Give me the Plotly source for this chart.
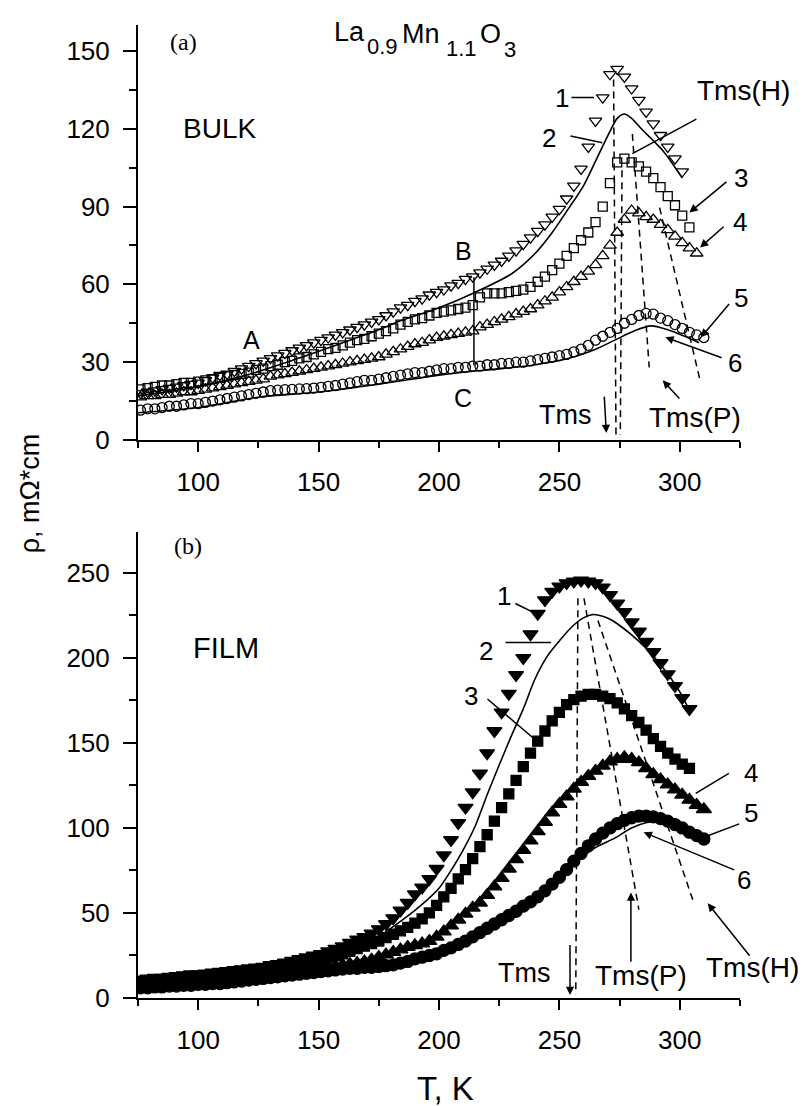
import plotly.graph_objects as go

FONT = "Liberation Sans, Arial, sans-serif"
SERIF = "Liberation Serif, Times New Roman, serif"
T_MIN, T_MAX = 75, 325

# ---------------- (a) BULK ----------------
T_BULK = [76, 79, 82, 85, 88, 91, 94, 97, 100, 103, 106, 109, 112, 115, 118, 121,
          124, 127, 130, 133, 136, 139, 142, 145, 148, 151, 154, 157, 160, 163, 166,
          169, 172, 175, 178, 181, 184, 187, 190, 193, 196, 199, 202, 205, 208, 211,
          214, 217, 220, 223, 226, 229, 232, 235, 238, 241, 244, 247, 250, 253, 256,
          259, 262, 265, 268, 271, 274, 277, 280, 283, 286, 289, 292, 295, 298, 301,
          304, 307, 310]

bulk_1 = [18, 18.5, 19, 19.5, 20, 20.5, 21, 21.5, 22, 23, 24, 25, 25.5, 26.5, 27.5, 28.5,
          29.5, 30.5, 31.5, 32.5, 33.5, 34.5, 35.5, 36.5, 37.5, 38.5, 39.5, 40.5, 41.5, 42.5, 43.5,
          44.5, 45.5, 46.5, 48, 49.5, 51, 52, 53.5, 54.5, 56, 57, 58, 59.5, 60.5, 62,
          63, 64.5, 66, 67.5, 69, 71, 73, 75.5, 78, 80.5, 83, 86, 89, 93, 98,
          104.5, 113, 123, 132, 141, 143, 140, 135.5, 131, 126.5, 122, 117.5, 113, 108.5, 103.5]

bulk_3 = [19.5, 20, 20.5, 21, 21, 21.5, 22, 22, 22.5, 23, 23.5, 24, 24.5, 25, 25.5, 26,
          27, 27.5, 28.5, 29, 30, 30.5, 31.5, 32, 33, 34, 35, 35.5, 36.5, 37.5, 38.5,
          39, 40, 41, 42, 43, 44.5, 45.5, 46.5, 47, 48, 49, 49.5, 50, 50.5, 51,
          52, 55, 56.5, 56.5, 56.5, 57, 57.5, 58, 59, 61, 63, 65.5, 68, 71, 74,
          77, 80, 84, 90, 99, 107, 108.5, 107, 105.5, 103.5, 101, 97.5, 94, 90.5, 86.5,
          82]

bulk_4 = [16.5, 17, 17, 17.5, 17.5, 18, 18.5, 18.5, 19, 19.5, 20, 20.5, 21, 21.5, 22, 22.5,
          23, 23.5, 24.5, 25, 25.5, 26, 26.5, 27, 27.5, 28, 28.5, 29, 29.5, 30, 30.5,
          31, 31.5, 32, 33, 34, 35, 36, 37, 37.5, 38.5, 39.5, 40, 40.5, 41, 41.5,
          42, 43.5, 44.5, 45.5, 46.5, 47.5, 48.5, 49.5, 50.5, 52, 53.5, 55, 57, 59, 61,
          63, 65, 67.5, 71, 75, 80, 85, 88.5, 87.5, 86, 85, 83, 81, 78.5, 76,
          74, 72]

bulk_5 = [11.5, 12, 12, 12.5, 13, 13, 13.5, 14, 14, 14.5, 15, 15.5, 16, 16.5, 17, 17.5,
          18, 18.5, 19, 19.2, 19.4, 19.5, 19.7, 19.8, 20, 20.3, 20.7, 21, 21.5, 22, 22.5,
          23, 23, 23.5, 24, 24.5, 25, 25.5, 26, 26, 26.5, 27, 27.5, 27.5, 28, 28,
          28.5, 28.5, 29, 29, 29.5, 29.5, 30, 30, 30.5, 31, 31.5, 32, 32.5, 33, 34,
          35, 36.5, 38.5, 40, 41.5, 43, 45, 46.5, 48, 48.8, 48.5, 47, 46, 44.5, 43,
          41.5, 40.5, 39.5]

T_BULK_2 = [75, 90, 100, 120, 140, 160, 175, 184, 200, 214, 230, 240, 247, 254, 260, 265,
            271, 274, 277, 280, 284, 293, 301]
bulk_2 = [17, 19, 20.5, 25, 31, 37.5, 42.5, 46, 51, 56.5, 64, 72, 80, 89.5, 98, 107.5,
          119, 124, 125.7, 124, 120, 111.5, 101]

T_BULK_6 = [75, 100, 125, 150, 175, 200, 214, 226, 240, 254, 265, 273, 281, 288, 295, 302, 308]
bulk_6 = [10.5, 12.5, 16.5, 18.5, 21.5, 25, 26.5, 27.5, 29, 31.5, 35, 38.5, 42, 44, 42.5, 40, 37.5]

# dashed guides through the maxima (T, rho pairs)
bulk_guides = [[(272.5, 139), (273.5, 2)], [(276, 104), (275.3, 2)],
               [(280.3, 118), (287.3, 28)], [(291.6, 89.6), (308.4, 23)]]
bulk_bc = [(214.5, 62.7), (214.5, 28.8)]

# ---------------- (b) FILM ----------------
T_FILM = T_BULK

film_1 = [11, 11.5, 12, 12, 12.5, 13, 13.5, 14, 14, 14.5, 15, 15.5, 16, 16.5, 17, 17.5,
          18, 18.5, 19.5, 20, 21, 22, 23, 24, 25, 26, 27.5, 29, 30.5, 32.5, 34.5,
          36, 38, 40.5, 43.5, 47, 51.5, 56, 61, 65, 70, 76, 84, 93, 103, 112,
          121, 132, 144, 157, 168, 179, 190, 200, 214, 226, 234, 239, 242, 244, 245,
          245.5, 245, 244, 241.5, 237, 232, 227, 221, 215.5, 209.5, 203.5, 197, 190.5, 183.5, 176.5,
          170]

film_3 = [9, 9.5, 9.5, 10, 10, 10.5, 11, 11, 11.5, 12, 12.5, 13, 13.5, 14, 14.5, 15,
          15.5, 16, 17, 17.5, 18.5, 19, 20, 21, 22, 23, 24, 25, 26, 27.5, 29,
          30.5, 32, 33.5, 35.5, 37.5, 39.5, 41.5, 44, 46.5, 50, 54.5, 59.5, 64.5, 70, 75.5,
          82, 89, 96, 104, 112, 120, 128, 136, 144, 151, 157, 163, 168, 172.5, 175.5,
          177.5, 178.5, 178.5, 177.5, 176, 173.5, 170, 166, 162, 157.5, 152.5, 148, 144, 140.5, 137.5,
          135]

film_4 = [7.5, 8, 8, 8.5, 8.5, 9, 9, 9.5, 10, 10, 10.5, 11, 11.5, 12, 12.5, 13,
          13.5, 14, 14.5, 15, 15.5, 16, 16.5, 17, 17.5, 18, 18.5, 19, 19.5, 20, 20.5,
          21.5, 22.5, 24, 25.5, 27, 28.5, 30, 31, 32, 33.5, 36, 39, 42.5, 46, 49.5,
          53, 56, 60.5, 65.5, 70.5, 76, 81.5, 87, 92.5, 98, 103.5, 109, 114, 118.5, 123,
          127, 130.5, 133.5, 136.5, 139, 140.5, 141.5, 140.5, 138.5, 135, 131.5, 128.5, 125.5, 122.5, 119.5,
          116.5, 113.5, 111]

film_5 = [6, 6, 6.5, 6.5, 7, 7, 7.5, 7.5, 8, 8, 8.5, 8.5, 9, 9.5, 10, 10.5,
          11, 11.5, 12, 12.5, 13, 13.5, 14, 14.5, 15, 15.5, 16, 16.5, 17, 17.5, 17.5,
          18, 18, 18.5, 19, 19.5, 20.5, 21.5, 23, 24, 25, 26, 28, 29.5, 31.5, 33.5,
          36, 38.5, 41, 43.5, 46, 48.5, 51, 54, 56.5, 59.5, 63, 67, 71, 75.5, 80.5,
          85, 89.5, 93.5, 97, 100, 102.5, 104.5, 106, 107, 107, 106.5, 105.5, 104, 102, 100,
          97.5, 95.5, 93.5]

T_FILM_2 = [75, 90, 100, 115, 130, 145, 160, 170, 178, 184, 190, 195, 200, 205, 210, 215,
            220, 225, 230, 235, 240, 245, 250, 255, 260, 264, 268, 272, 276, 280, 285, 290,
            295, 300, 303]
film_2 = [9, 10.5, 11.5, 13.5, 16, 20, 26, 32, 39, 45, 51.5, 57.5, 64.5, 75, 87, 101,
          119.5, 137, 154, 170, 188, 201, 210, 218, 223.5, 225.5, 224.5, 222, 218, 213.5, 207, 199.5,
          190.5, 180, 172]

T_FILM_6 = [75, 100, 125, 150, 170, 185, 195, 209, 215, 223, 234, 245, 256, 265, 273, 280,
            288, 295, 302, 310]
film_6 = [5, 7, 10, 13.5, 17, 19.5, 22, 30, 35, 41.7, 53.4, 65, 79, 88.5, 94, 100,
          103.5, 102, 98, 93]

film_guides = [[(257.7, 235), (256.8, 2)], [(260.2, 235), (283, 52)],
               [(266, 222), (305.8, 56)]]

fig = go.Figure()


def markers(T, rho, symbol, size, xa, ya, lw=1.3):
    fig.add_trace(go.Scatter(
        x=T[:len(rho)], y=rho, mode="markers", xaxis=xa, yaxis=ya,
        marker=dict(symbol=symbol, size=size, color="black",
                    line=dict(width=lw, color="black")),
        hoverinfo="skip"))


def curve(T, rho, xa, ya):
    fig.add_trace(go.Scatter(
        x=T, y=rho, mode="lines", xaxis=xa, yaxis=ya,
        line=dict(color="black", width=1.6, shape="spline", smoothing=0.8),
        hoverinfo="skip"))


def segment(pts, xa, ya, dash):
    fig.add_trace(go.Scatter(
        x=[p[0] for p in pts], y=[p[1] for p in pts], mode="lines",
        xaxis=xa, yaxis=ya, line=dict(color="black", width=1.5, dash=dash),
        hoverinfo="skip"))


# panel (a)
for seg in bulk_guides:
    segment(seg, "x", "y", "7px,5px")
segment(bulk_bc, "x", "y", "solid")
markers(T_BULK, bulk_5, "circle-open", 10, "x", "y")
curve(T_BULK_6, bulk_6, "x", "y")
markers(T_BULK, bulk_4, "triangle-up-open", 11, "x", "y")
markers(T_BULK, bulk_3, "square-open", 9, "x", "y")
curve(T_BULK_2, bulk_2, "x", "y")
markers(T_BULK, bulk_1, "triangle-down-open", 11, "x", "y")

# panel (b)
for seg in film_guides:
    segment(seg, "x2", "y2", "7px,5px")
markers(T_FILM, film_5, "circle", 12, "x2", "y2")
curve(T_FILM_6, film_6, "x2", "y2")
markers(T_FILM, film_4, "triangle-up", 13, "x2", "y2")
markers(T_FILM, film_3, "square", 10, "x2", "y2")
curve(T_FILM_2, film_2, "x2", "y2")
markers(T_FILM, film_1, "triangle-down", 13, "x2", "y2")

annotations = []


def label(text, x, y, panel, size=26, family=FONT):
    # horizontal position given in kelvin, placed on the paper so that text
    # beyond the axis range is still shown
    yr = "y" if panel == 1 else "y2"
    annotations.append(dict(text=text, x=(x - T_MIN) / (T_MAX - T_MIN), y=y,
                            xref="paper", yref=yr, showarrow=False,
                            xanchor="center", yanchor="middle",
                            font=dict(family=family, size=size, color="black")))


def pointer(x0, y0, x1, y1, panel, head=2):
    # line from (x0, y0) to (x1, y1); arrowhead drawn at (x1, y1)
    xr, yr = ("x", "y") if panel == 1 else ("x2", "y2")
    annotations.append(dict(text="", x=x1, y=y1, ax=x0, ay=y0, xref=xr, yref=yr,
                            axref=xr, ayref=yr, showarrow=True, arrowhead=head,
                            arrowsize=1.1, arrowwidth=1.5, arrowcolor="black",
                            standoff=0, startstandoff=0))


# compound formula
label("La", 162.8, 157.3, 1, 27)
label("0.9", 176.5, 151.9, 1, 22)
label("Mn", 192.6, 156.7, 1, 27)
label("1.1", 209.3, 150.8, 1, 22)
label("O", 221.3, 156.5, 1, 27)
label("3", 229.6, 150.4, 1, 22)

label("(a)", 93.7, 153.5, 1, 24, SERIF)
label("BULK", 108.8, 120, 1, 28)
label("A", 122, 38.5, 1, 25)
label("B", 210, 73, 1, 25)
label("C", 210, 16, 1, 25)
label("1", 251, 132, 1)
label("2", 245.6, 116.5, 1)
label("Tms(H)", 326.4, 134.6, 1, 28)
label("3", 325.5, 101, 1)
label("4", 325, 84, 1)
label("5", 325.5, 54.6, 1)
label("6", 323, 29.6, 1)
label("Tms", 252.3, 9.6, 1, 27)
label("Tms(P)", 306.3, 8.8, 1, 28)

pointer(254.4, 132, 264.4, 132, 1, head=0)
pointer(254, 117.3, 267.8, 114.6, 1, head=0)
pointer(307.5, 124, 280.3, 110.4, 1, head=0)
pointer(320, 100, 304, 87.7, 1)
pointer(318.8, 82.7, 308.4, 74.2, 1)
pointer(321, 53, 308.8, 39.6, 1)
pointer(318, 31.5, 294, 39.6, 1)
pointer(268.6, 17.3, 269.5, 2.7, 1)
pointer(300.4, 15.4, 292.9, 23, 1)

label("(b)", 95.9, 265.8, 2, 24, SERIF)
label("FILM", 111.6, 206, 2, 29)
label("1", 227, 236.5, 2)
label("2", 219.5, 204, 2)
label("3", 213.3, 177.8, 2)
label("4", 329.5, 132.6, 2)
label("5", 329.5, 108.6, 2)
label("6", 326.6, 69.2, 2)
label("Tms", 235.3, 14.7, 2, 27)
label("Tms(P)", 283.8, 13.5, 2, 28)
label("Tms(H)", 330.3, 18.2, 2, 28)

pointer(231.1, 232.4, 240.2, 226, 2, head=0)
pointer(227, 209, 246.5, 209, 2, head=0)
pointer(219.5, 176.6, 239, 153, 2, head=0)
pointer(321, 132.6, 306.6, 120.3, 2, head=0)
pointer(325.3, 102.7, 310, 94.5, 2, head=0)
pointer(323.2, 75, 285, 97.4, 2)
pointer(254.4, 32, 254.4, 1.8, 2)
pointer(279.7, 20.5, 279.7, 62, 2)
pointer(329.5, 24, 311.6, 55.7, 2)

# axis titles
annotations.append(dict(text="\u03c1, m\u03a9*cm", x=-0.179, y=0.519, xref="paper", yref="paper",
                        showarrow=False, textangle=-90, xanchor="center", yanchor="middle",
                        font=dict(family=FONT, size=27, color="black")))
annotations.append(dict(text="T, K", x=0.5116, y=-0.0925, xref="paper", yref="paper",
                        showarrow=False, xanchor="center", yanchor="middle",
                        font=dict(family=FONT, size=33, color="black")))

axis_style = dict(showline=True, linecolor="black", linewidth=2, ticks="outside",
                  tickwidth=2, tickcolor="black", showgrid=False, zeroline=False,
                  tickfont=dict(family=FONT, size=26, color="black"))

xstyle = dict(axis_style, range=[T_MIN, T_MAX], dtick=50, tick0=0, ticklen=10,
              ticklabelstandoff=8,
              minor=dict(dtick=25, ticks="outside", ticklen=6, tickwidth=1.5,
                         tickcolor="black"))

fig.update_layout(
    width=803, height=1106,
    margin=dict(l=138, r=63, t=25, b=108),
    paper_bgcolor="white", plot_bgcolor="white",
    showlegend=False,
    xaxis=dict(xstyle, domain=[0, 1], anchor="y"),
    yaxis=dict(axis_style, domain=[0.5735, 1], anchor="x", range=[0, 160],
               dtick=30, tick0=0, ticklen=13, ticklabelstandoff=8,
               minor=dict(dtick=15, ticks="outside", ticklen=7, tickwidth=1.5,
                          tickcolor="black")),
    xaxis2=dict(xstyle, domain=[0, 1], anchor="y2"),
    yaxis2=dict(axis_style, domain=[0, 0.4789], anchor="x2", range=[0, 274],
                dtick=50, tick0=0, ticklen=13, ticklabelstandoff=8,
                minor=dict(dtick=25, ticks="outside", ticklen=7, tickwidth=1.5,
                           tickcolor="black")),
    annotations=annotations,
)

fig.write_html("out.html")
